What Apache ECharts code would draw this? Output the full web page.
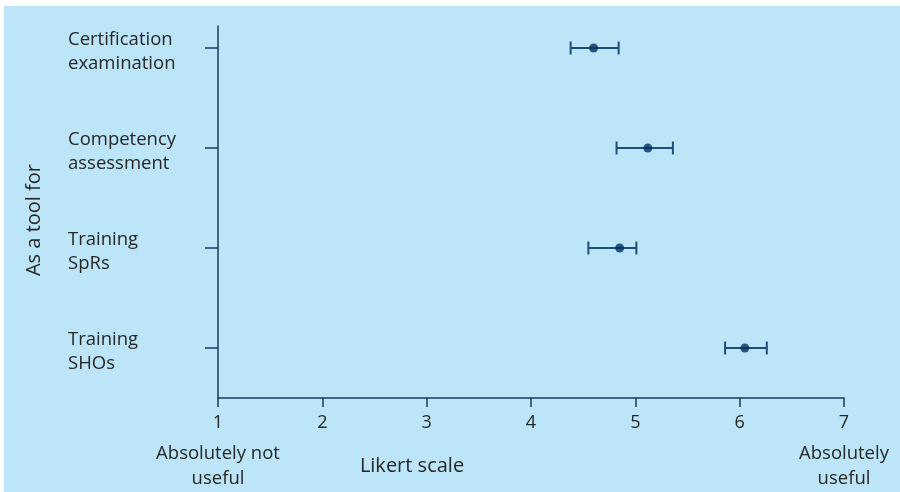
<!DOCTYPE html>
<html>
<head>
<meta charset="utf-8">
<script src="https://cdn.jsdelivr.net/npm/echarts@6/dist/echarts.min.js"></script>
<style>
  html, body { margin: 0; padding: 0; background: #ffffff; overflow: hidden; }
  #chart { position: absolute; left: 4px; top: 6px; width: 896px; height: 486px; }
</style>
</head>
<body>
<div id="chart"></div>
<script>
// ---- data ----
const categories = ['Certification\nexamination', 'Competency\nassessment', 'Training\nSpRs', 'Training\nSHOs'];
const means = [4.60, 5.12, 4.85, 6.05];
const lower = [4.38, 4.82, 4.55, 5.86];
const upper = [4.84, 5.36, 5.01, 6.26];
const xTickLabels = ['1', '2', '3', '4', '5', '6', '7'];
const xEndLabels = { 1: 'Absolutely not\nuseful', 7: 'Absolutely\nuseful' };
const xAxisName = 'Likert scale';
const yAxisName = 'As a tool for';

// category positions on the value y-axis (top category first)
const yPos = i => categories.length - 1 - i + 0.5;
const yTicks = categories.map((c, i) => yPos(i));

const textColor = '#262626';
const axisColor = '#143d63';
const barColor = '#1b4f7a';
const dotColor = '#00305c';

const chart = echarts.init(document.getElementById('chart'));
const option = {
  backgroundColor: '#bde5f8',
  animation: false,
  textStyle: { fontFamily: 'Open Sans' },
  grid: { left: 214, top: 20, right: 56, bottom: 94, outerBoundsMode: 'none', containLabel: false },
  xAxis: {
    type: 'value', min: 1, max: 7, interval: 1,
    splitLine: { show: false },
    axisLine: { show: true, lineStyle: { color: axisColor, width: 1.5 } },
    axisTick: { show: true, length: 9, lineStyle: { color: axisColor, width: 1.5 } },
    axisLabel: {
      margin: 7,
      formatter: v => {
        const n = xTickLabels[Math.round(v) - 1];
        const extra = xEndLabels[Math.round(v)];
        let s = '{n|' + n + '}';
        if (extra) s += '\n' + extra.split('\n').map(t => '{t|' + t + '}').join('\n');
        return s;
      },
      rich: {
        n: { fontSize: 18, lineHeight: 36, color: textColor, fontFamily: 'Open Sans' },
        t: { fontSize: 18.5, lineHeight: 25, color: textColor, fontFamily: 'Open Sans' }
      }
    },
    name: xAxisName, nameLocation: 'middle', nameGap: 58, nameMoveOverlap: false,
    nameTextStyle: { fontSize: 20, color: textColor, padding: [0, 238, 0, 0] }
  },
  yAxis: {
    type: 'value', min: 0, max: 3.72,
    splitLine: { show: false },
    axisLine: { show: true, lineStyle: { color: axisColor, width: 1.5 } },
    axisTick: { show: true, length: 13, customValues: yTicks, lineStyle: { color: axisColor, width: 1.5 } },
    axisLabel: {
      customValues: yTicks, align: 'left', margin: 150,
      formatter: v => {
        const label = categories[Math.round(categories.length - 1 - (v - 0.5))];
        return '{s| }\n' + label.split('\n').map(t => '{a|' + t + '}').join('\n');
      },
      rich: {
        s: { fontSize: 4, lineHeight: 8 },
        a: { fontSize: 18.5, lineHeight: 24, color: textColor, fontFamily: 'Open Sans', align: 'left' }
      }
    },
    name: yAxisName, nameLocation: 'middle', nameRotate: 90, nameGap: 174, nameMoveOverlap: false,
    nameTextStyle: { fontSize: 20, color: textColor, padding: [0, 16, 0, 0] }
  },
  series: [
    {
      type: 'custom',
      data: categories.map((c, i) => [lower[i], upper[i], yPos(i)]),
      encode: { x: [0, 1], y: 2 },
      renderItem: (params, api) => {
        const y = api.value(2);
        const p1 = api.coord([api.value(0), y]);
        const p2 = api.coord([api.value(1), y]);
        const h = 6.5;
        const style = { stroke: barColor, lineWidth: 2 };
        return {
          type: 'group',
          children: [
            { type: 'line', shape: { x1: p1[0], y1: p1[1], x2: p2[0], y2: p2[1] }, style },
            { type: 'line', shape: { x1: p1[0], y1: p1[1] - h, x2: p1[0], y2: p1[1] + h }, style },
            { type: 'line', shape: { x1: p2[0], y1: p2[1] - h, x2: p2[0], y2: p2[1] + h }, style }
          ]
        };
      },
      z: 2
    },
    {
      type: 'scatter',
      data: means.map((m, i) => [m, yPos(i)]),
      symbol: 'circle', symbolSize: 9,
      itemStyle: { color: dotColor },
      z: 3
    }
  ]
};
chart.setOption(option);
</script>
</body>
</html>
